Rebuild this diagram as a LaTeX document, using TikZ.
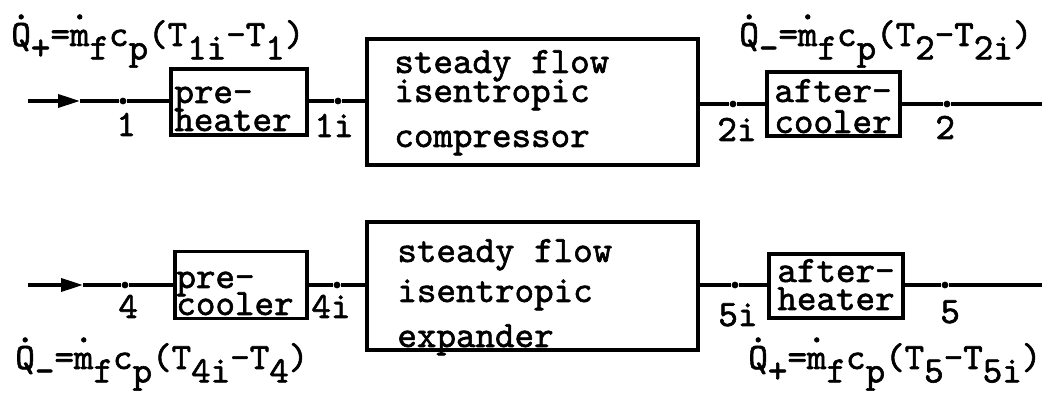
\documentclass[tikz,border=0pt]{standalone}
\usepackage{fontspec}
\newfontfamily\tw{lmmono10-regular.otf}[FakeBold=1.6]
\usetikzlibrary{arrows.meta}
\newcommand\qdot[1]{\makebox[0pt][l]{\raisebox{0.72em}{.}}#1}
\newcommand\lowr[1]{\raisebox{-0.36em}{#1}}
\begin{document}
\begin{tikzpicture}[x=0.5pt,y=-0.5pt,
  every node/.style={font=\tw\fontsize{18.6}{22}\selectfont, inner sep=0pt},
  txt/.style={anchor=base west},
  blk/.style={draw, line width=1.8pt, rectangle},
  flow/.style={line width=1.8pt},
  dot/.style={circle, fill, minimum size=3.4pt, inner sep=0pt},
  tip/.style={-{Triangle[length=11pt,width=6.5pt]}}]
\useasboundingbox (0,0) rectangle (1042,394);

% ---- top row ----
\node[blk, minimum width=68pt, minimum height=33pt] (pre1) at (239,102) {};
\node[blk, minimum width=165.5pt, minimum height=63pt] (comp) at (532.5,102) {};
\node[blk, minimum width=66.5pt, minimum height=32pt] (aft1) at (833.5,104) {};

\node[txt] (tpre1a) at (174,103) {pre-};
\node[txt] (tpre1b) at (174,131) {heater};
\node[txt] (tcompa) at (394,73) {steady flow};
\node[txt] (tcompb) at (394,102) {isentropic};
\node[txt] (tcompc) at (394,147) {compressor};
\node[txt] (taft1a) at (774,102) {after-};
\node[txt] (taft1b) at (774,133) {cooler};

\coordinate (s1) at (28,101);
\coordinate (a1) at (80,101);
\coordinate (e1) at (1042,104);
\node[dot] (d1) at (123,101) {};
\node[dot] (d1i) at (338,101) {};
\node[dot] (d2i) at (733,104) {};
\node[dot] (d2) at (947,104) {};

\draw[flow,tip] (s1) -- (a1);
\draw[flow] (a1) -- (d1) -- (pre1.west |- d1);
\draw[flow] (pre1.east |- d1i) -- (d1i) -- (comp.west |- d1i);
\draw[flow] (comp.east |- d2i) -- (d2i) -- (aft1.west |- d2i);
\draw[flow] (aft1.east |- d2) -- (d2) -- (e1);

\node[txt] (l1) at (116,136) {1};
\node[txt] (l1i) at (314,137) {1i};
\node[txt] (l2i) at (717,141) {2i};
\node[txt] (l2) at (935,139) {2};

\node[txt] (f1) at (11,46) {\qdot{Q}\lowr{+}=\qdot{m}\lowr{f}c\lowr{p}(T\lowr{1i}-T\lowr{1})};
\node[txt] (f2) at (739,46) {\qdot{Q}\lowr{-}=\qdot{m}\lowr{f}c\lowr{p}(T\lowr{2}-T\lowr{2i})};

% ---- bottom row ----
\node[blk, minimum width=66pt, minimum height=33.5pt] (pre2) at (241,285) {};
\node[blk, minimum width=165.5pt, minimum height=64pt] (exp) at (532.5,286) {};
\node[blk, minimum width=67pt, minimum height=32pt] (aft2) at (836,286) {};

\node[txt] (tpre2a) at (176,288) {pre-};
\node[txt] (tpre2b) at (176,315) {cooler};
\node[txt] (texpa) at (397,262) {steady flow};
\node[txt] (texpb) at (397,302) {isentropic};
\node[txt] (texpc) at (397,347) {expander};
\node[txt] (taft2a) at (777,282) {after-};
\node[txt] (taft2b) at (777,310) {heater};

\coordinate (s2) at (28,285);
\coordinate (a2) at (83,285);
\coordinate (e2) at (1042,285);
\node[dot] (d4) at (125,285) {};
\node[dot] (d4i) at (337,285) {};
\node[dot] (d5i) at (735,285) {};
\node[dot] (d5) at (945,285) {};

\draw[flow,tip] (s2) -- (a2);
\draw[flow] (a2) -- (d4) -- (pre2.west |- d4);
\draw[flow] (pre2.east |- d4i) -- (d4i) -- (exp.west |- d4i);
\draw[flow] (exp.east |- d5i) -- (d5i) -- (aft2.west |- d5i);
\draw[flow] (aft2.east |- d5) -- (d5) -- (e2);

\node[txt] (l4) at (118,318) {4};
\node[txt] (l4i) at (311,318) {4i};
\node[txt] (l5i) at (718,326) {5i};
\node[txt] (l5) at (940,323) {5};

\node[txt] (f3) at (15,369) {\qdot{Q}\lowr{-}=\qdot{m}\lowr{f}c\lowr{p}(T\lowr{4i}-T\lowr{4})};
\node[txt] (f4) at (748,369) {\qdot{Q}\lowr{+}=\qdot{m}\lowr{f}c\lowr{p}(T\lowr{5}-T\lowr{5i})};
\end{tikzpicture}
\end{document}
